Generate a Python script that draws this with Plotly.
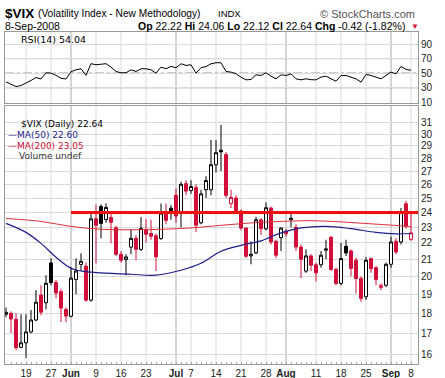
import math
import plotly.graph_objects as go

# ---------------- data ----------------
dates = [
    "2008-05-13", "2008-05-14", "2008-05-15", "2008-05-16",
    "2008-05-19", "2008-05-20", "2008-05-21", "2008-05-22", "2008-05-23",
    "2008-05-27", "2008-05-28", "2008-05-29", "2008-05-30",
    "2008-06-02", "2008-06-03", "2008-06-04", "2008-06-05", "2008-06-06",
    "2008-06-09", "2008-06-10", "2008-06-11", "2008-06-12", "2008-06-13",
    "2008-06-16", "2008-06-17", "2008-06-18", "2008-06-19", "2008-06-20",
    "2008-06-23", "2008-06-24", "2008-06-25", "2008-06-26", "2008-06-27",
    "2008-06-30", "2008-07-01", "2008-07-02", "2008-07-03",
    "2008-07-07", "2008-07-08", "2008-07-09", "2008-07-10", "2008-07-11",
    "2008-07-14", "2008-07-15", "2008-07-16", "2008-07-17", "2008-07-18",
    "2008-07-21", "2008-07-22", "2008-07-23", "2008-07-24", "2008-07-25",
    "2008-07-28", "2008-07-29", "2008-07-30", "2008-07-31", "2008-08-01",
    "2008-08-04", "2008-08-05", "2008-08-06", "2008-08-07", "2008-08-08",
    "2008-08-11", "2008-08-12", "2008-08-13", "2008-08-14", "2008-08-15",
    "2008-08-18", "2008-08-19", "2008-08-20", "2008-08-21", "2008-08-22",
    "2008-08-25", "2008-08-26", "2008-08-27", "2008-08-28", "2008-08-29",
    "2008-09-02", "2008-09-03", "2008-09-04", "2008-09-05", "2008-09-08",
]

opens = [17.95, 18.00, 17.70, 16.34, 16.55, 17.07, 17.66, 18.96, 18.55,
         20.78, 19.66, 19.15, 18.20, 17.85, 19.82, 20.69, 20.59, 18.69,
         23.57, 24.41, 23.52, 23.66, 22.97, 21.30, 20.98, 21.74, 22.29, 21.60,
         22.85, 22.60, 22.45, 22.27, 24.00, 24.29, 25.20, 24.00, 26.05,
         25.54, 25.76, 23.30, 25.60, 25.60, 27.49, 28.65, 28.30, 24.62, 25.00,
         24.10, 22.95, 21.20, 21.38, 23.50, 22.90, 24.30, 22.10, 22.33, 22.75,
         23.50, 23.00, 21.74, 20.30, 21.20, 20.67, 20.67, 21.55, 22.37, 20.40,
         19.60, 21.79, 21.50, 20.94, 19.88, 18.87, 21.04, 20.50, 19.38, 19.50,
         20.70, 22.10, 22.06, 24.60, 22.22]
highs = [18.30, 18.10, 18.00, 17.95, 17.95, 18.17, 19.23, 19.50, 20.06,
         21.06, 19.80, 19.30, 18.30, 20.54, 21.06, 21.36, 20.80, 23.93,
         24.55, 24.55, 24.62, 23.90, 23.10, 21.50, 21.30, 22.87, 22.50, 23.68,
         23.55, 23.50, 22.60, 24.62, 24.62, 24.50, 25.69, 26.20, 26.30,
         26.30, 26.00, 25.60, 26.60, 29.50, 29.50, 30.80, 28.50, 25.60, 25.20,
         24.20, 23.00, 22.10, 23.70, 23.60, 24.70, 24.40, 22.20, 23.00, 22.90,
         23.90, 23.20, 21.90, 21.60, 21.30, 20.80, 21.50, 22.20, 22.40, 20.50,
         22.00, 22.20, 21.60, 21.10, 20.00, 21.14, 21.10, 20.60, 19.60, 20.80,
         22.40, 22.30, 24.30, 24.80, 24.06]
lows = [17.80, 17.02, 16.20, 16.30, 15.85, 17.00, 17.60, 17.90, 18.20,
        19.50, 18.80, 17.56, 17.54, 17.80, 19.00, 20.30, 18.60, 18.60,
        20.76, 22.29, 23.30, 21.98, 21.20, 20.80, 20.06, 21.30, 20.94, 21.50,
        22.02, 22.20, 20.30, 22.20, 23.20, 23.50, 23.30, 23.00, 25.20,
        25.30, 22.69, 23.20, 25.00, 25.20, 26.90, 27.00, 25.00, 24.30, 23.90,
        22.80, 21.06, 20.70, 21.30, 22.50, 22.80, 21.90, 21.06, 21.50, 22.40,
        23.00, 21.50, 19.90, 20.20, 20.30, 19.70, 20.50, 21.00, 20.30, 19.50,
        19.50, 21.20, 20.00, 19.05, 18.60, 18.70, 20.20, 19.50, 19.23, 19.40,
        20.50, 21.30, 21.90, 22.90, 22.12]
closes = [18.05, 17.71, 16.32, 16.55, 17.07, 17.66, 18.58, 18.06, 19.61,
          19.65, 19.07, 18.27, 17.86, 19.90, 20.31, 20.88, 18.69, 23.56,
          23.13, 23.26, 24.34, 23.33, 21.30, 20.94, 21.14, 22.29, 21.60, 22.93,
          22.55, 22.42, 21.14, 23.95, 23.46, 24.09, 23.75, 26.00, 25.50,
          25.84, 23.13, 25.30, 26.28, 27.49, 28.45, 28.52, 25.19, 25.04, 24.10,
          22.95, 21.18, 21.30, 23.50, 22.91, 24.32, 22.06, 21.24, 22.95, 22.59,
          23.60, 21.74, 21.00, 21.20, 20.64, 20.20, 21.24, 21.62, 20.40, 19.60,
          21.04, 21.38, 20.45, 19.88, 18.78, 20.94, 20.44, 19.82, 19.50, 20.70,
          22.06, 21.44, 24.03, 23.06, 22.64]

rsi14 = [38.0, 35.3, 31.6, 33.0, 36.0, 40.0, 44.0, 42.0, 50.5,
         50.0, 47.0, 43.0, 42.0, 52.0, 54.6, 56.0, 47.0, 63.0,
         61.5, 62.0, 63.0, 58.3, 52.3, 50.5, 50.5, 54.6, 52.3, 56.0,
         56.0, 54.6, 50.0, 58.3, 56.0, 59.2, 57.4, 62.9, 60.6,
         61.5, 50.0, 57.4, 59.0, 62.9, 64.3, 64.3, 52.3, 51.4, 49.1,
         44.5, 40.8, 41.3, 47.7, 46.8, 50.5, 45.9, 42.2, 47.7, 46.8,
         49.1, 42.2, 40.8, 42.2, 41.0, 40.8, 44.5, 45.9, 42.2, 39.0,
         46.8, 46.8, 44.5, 42.2, 37.6, 48.2, 46.8, 44.5, 42.2, 46.8,
         51.4, 49.0, 59.2, 55.1, 54.04]

ma50_dates = ["2008-05-13", "2008-05-19", "2008-05-22", "2008-05-28", "2008-06-02",
              "2008-06-05", "2008-06-10", "2008-06-18", "2008-06-25", "2008-07-02",
              "2008-07-09", "2008-07-15", "2008-07-21", "2008-07-25", "2008-07-31",
              "2008-08-06", "2008-08-13", "2008-08-20", "2008-08-27", "2008-09-03",
              "2008-09-08"]
ma50_vals = [23.26, 22.67, 21.97, 21.12, 20.47, 20.27, 20.20, 20.12, 20.07, 20.35,
             20.76, 21.48, 21.85, 22.13, 22.64, 22.96, 23.06, 22.91, 22.67, 22.58,
             22.60]

ma200_dates = ["2008-05-13", "2008-05-22", "2008-06-02", "2008-06-10", "2008-06-18",
               "2008-06-26", "2008-07-07", "2008-07-15", "2008-07-23", "2008-07-31",
               "2008-08-08", "2008-08-18", "2008-08-26", "2008-09-04", "2008-09-08"]
ma200_vals = [23.59, 23.39, 23.06, 22.87, 22.84, 22.87, 22.96, 23.13, 23.29, 23.39,
              23.44, 23.36, 23.23, 23.10, 23.05]

tick_dates = ["2008-05-19", "2008-05-27", "2008-06-02", "2008-06-09", "2008-06-16",
              "2008-06-23", "2008-07-01", "2008-07-07", "2008-07-14", "2008-07-21",
              "2008-07-28", "2008-08-01", "2008-08-11", "2008-08-18", "2008-08-25",
              "2008-09-02", "2008-09-08"]
tick_labels = ["19", "27", "<b>Jun</b>", "9", "16", "23", "<b>Jul</b>", "7", "14", "21",
               "28", "<b>Aug</b>", "11", "18", "25", "<b>Sep</b>", "8"]
month_dates = ["2008-06-02", "2008-07-01", "2008-08-01", "2008-09-02"]

price_ticks = list(range(16, 32))
rsi_ticks = [10, 30, 50, 70, 90]
resistance_level = 24.0
resistance_start = "2008-06-02"

# ---------------- styling ----------------
RED = "#D0103A"
NAVY = "#1E1E8C"
MA_RED = "#E0303A"
GRID = "#DADADA"
FONT = "Liberation Sans"
W, H = 445, 378
ML, MR, MT, MB = 5, 27, 32, 14
PW, PH = W - ML - MR, H - MT - MB


def px(x):
    return (x - ML) / PW


def py(y):
    return (H - MB - y) / PH


# classify candles: black if close >= previous close, red otherwise
blk = {"x": [], "o": [], "h": [], "l": [], "c": []}
red = {"x": [], "o": [], "h": [], "l": [], "c": []}
for i, d in enumerate(dates):
    tgt = blk if (i == 0 or closes[i] >= closes[i - 1]) else red
    tgt["x"].append(d)
    tgt["o"].append(opens[i])
    tgt["h"].append(highs[i])
    tgt["l"].append(lows[i])
    tgt["c"].append(closes[i])

fig = go.Figure()

fig.add_trace(go.Scatter(x=ma200_dates, y=ma200_vals, mode="lines",
                         line=dict(color=MA_RED, width=1, shape="spline"),
                         xaxis="x", yaxis="y", hoverinfo="skip"))
fig.add_trace(go.Scatter(x=ma50_dates, y=ma50_vals, mode="lines",
                         line=dict(color=NAVY, width=1.2, shape="spline"),
                         xaxis="x", yaxis="y", hoverinfo="skip"))

fig.add_trace(go.Candlestick(
    x=blk["x"], open=blk["o"], high=blk["h"], low=blk["l"], close=blk["c"],
    increasing=dict(line=dict(color="black", width=1), fillcolor="white"),
    decreasing=dict(line=dict(color="black", width=1), fillcolor="black"),
    whiskerwidth=0, xaxis="x", yaxis="y"))
fig.add_trace(go.Candlestick(
    x=red["x"], open=red["o"], high=red["h"], low=red["l"], close=red["c"],
    increasing=dict(line=dict(color=RED, width=1), fillcolor="white"),
    decreasing=dict(line=dict(color=RED, width=1), fillcolor=RED),
    whiskerwidth=0, xaxis="x", yaxis="y"))

fig.add_trace(go.Scatter(x=dates, y=rsi14, mode="lines",
                         line=dict(color="black", width=1),
                         xaxis="x2", yaxis="y2", hoverinfo="skip"))

n = len(dates)
xrange = [-0.2, n + 0.4]
axis_font = dict(size=10, color="#222", family=FONT)

fig.update_layout(
    template="none",
    width=W, height=H,
    margin=dict(l=ML, r=MR, t=MT, b=MB, pad=0),
    paper_bgcolor="white", plot_bgcolor="white",
    showlegend=False,
    boxgap=0.15,
    font=dict(family=FONT, size=10, color="#222"),
    xaxis=dict(type="category", categoryorder="array", categoryarray=dates,
               range=xrange, domain=[0, 1], anchor="y", automargin=False,
               tickmode="array", tickvals=dates,
               ticktext=[tick_labels[tick_dates.index(d)] if d in tick_dates else ""
                         for d in dates],
               showgrid=False, zeroline=False,
               showline=True, linecolor="#999", linewidth=1, mirror=True,
               ticks="inside", ticklen=2, tickcolor="#AAA", tickwidth=1,
               tickfont=axis_font, tickangle=0,
               rangeslider=dict(visible=False), fixedrange=True),
    yaxis=dict(type="log", domain=[0, py(106)], automargin=False,
               range=[math.log10(15.58), math.log10(32.5)],
               side="right", tickmode="array", tickvals=price_ticks,
               ticktext=[str(v) for v in price_ticks], zeroline=False,
               showgrid=True, gridcolor=GRID, gridwidth=1,
               showline=True, linecolor="#999", linewidth=1,
               mirror=True, ticks="", ticklen=0, tickfont=axis_font),
    xaxis2=dict(type="category", categoryorder="array", categoryarray=dates,
                range=xrange, anchor="y2", matches="x", automargin=False,
                showticklabels=False, showgrid=False, zeroline=False,
                showline=True, linecolor="#999", linewidth=1, mirror=True, ticks=""),
    yaxis2=dict(domain=[py(103), 1], range=[9.0, 106.5], side="right",
                automargin=False, tickmode="array", tickvals=rsi_ticks,
                zeroline=False, showgrid=True, gridcolor=GRID, gridwidth=1,
                showline=True, linecolor="#999", linewidth=1,
                mirror=True, ticks="", ticklen=0, tickfont=axis_font),
)

shapes = []
for d in tick_dates:
    col = "#A8A8A8" if d in month_dates else GRID
    for xr, yr in (("x", "y domain"), ("x2", "y2 domain")):
        shapes.append(dict(type="line", xref=xr, yref=yr, x0=d, x1=d, y0=0, y1=1,
                           line=dict(color=col, width=1), layer="below"))
for lvl in (30, 70):
    shapes.append(dict(type="line", xref="x2 domain", yref="y2", x0=0, x1=1,
                       y0=lvl, y1=lvl, line=dict(color="#777", width=1), layer="below"))
shapes.append(dict(type="line", xref="x2 domain", yref="y2", x0=0, x1=1, y0=50, y1=50,
                   line=dict(color="#777", width=1, dash="dashdot"), layer="below"))
shapes.append(dict(type="line", xref="x", yref="y", x0=resistance_start, x1=xrange[1],
                   y0=resistance_level, y1=resistance_level,
                   line=dict(color="#F01010", width=3), layer="above"))
fig.update_layout(shapes=shapes)

ann = []


def text(x, y, s, size=10, color="#222", family=FONT, xanchor="left"):
    ann.append(dict(xref="paper", yref="paper", x=px(x), y=py(y), text=s,
                    showarrow=False, xanchor=xanchor, yanchor="middle",
                    font=dict(size=size, color=color, family=family)))


text(3, 14, "<b>$VIX</b>", size=13.5, color="black")
text(36, 14, "(Volatility Index - New Methodology)", size=10.2, color="black")
text(216, 14, "INDX", size=9.5, color="black")
text(417, 14, "© StockCharts.com", size=11, color="#555", xanchor="right")
text(3, 26, "8-Sep-2008", size=10.5, color="black")
text(407, 26, "<b>Op</b> 22.22 <b>Hi</b> 24.06 <b>Lo</b> 22.12 <b>Cl</b> 22.64 "
     "<b>Chg</b> -0.42 (-1.82%)", size=10.5, color="black", xanchor="right")
text(409, 26, "▼", size=8, color=RED)
text(19, 39, "RSI(14) 54.04", size=9.5, color="black", family="DejaVu Sans")
text(19, 124, "$VIX (Daily) 22.64", size=9, color="black", family="DejaVu Sans")
text(6, 134.5, "—MA(50) 22.60", size=9, color=NAVY, family="DejaVu Sans")
text(6, 145.5, "—MA(200) 23.05", size=9, color=RED, family="DejaVu Sans")
text(17, 156, "Volume undef", size=9, color="#333", family="DejaVu Sans")
fig.update_layout(annotations=ann)

fig.write_html(
    "out.html",
    config={"displayModeBar": False, "staticPlot": True},
    post_script=(
        "document.body.style.margin='0';document.body.style.padding='0';"
        "var gd=document.getElementById('{plot_id}');"
        "Plotly.newPlot(gd, gd.data, gd.layout, "
        "{displayModeBar: false, staticPlot: true});"
    ),
)
